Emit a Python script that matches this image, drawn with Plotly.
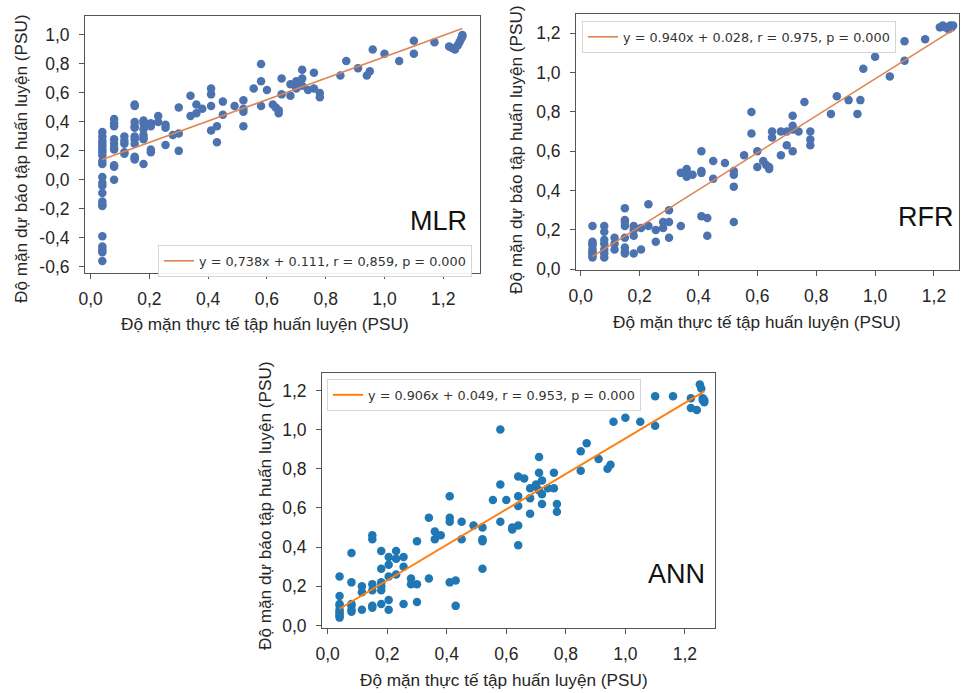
import numpy as np
import plotly.graph_objects as go

# ---------------- data ----------------
mlr_x = [0.04]*22 + [0.08]*10 + [0.115]*5 + [0.15]*11 + [0.18]*7 + [0.205]*4 + [0.23]*2 + [0.255]*3 + [0.28] + [0.30]*3 \
    + [0.34]*2 + [0.36]*2 + [0.38] + [0.41]*4 + [0.43]*2 + [0.45]*2 + [0.49] + [0.52]*4 + [0.555] + [0.58]*3 + [0.60] \
    + [0.62, 0.63, 0.64, 0.64] + [0.65]*2 + [0.68]*2 + [0.70]*3 + [0.72]*3 + [0.74] + [0.76]*2 + [0.78]*2 \
    + [0.85, 0.87, 0.91, 0.94, 0.95, 0.96, 1.00, 1.05, 1.10, 1.10, 1.17] + [1.22, 1.23, 1.24, 1.25, 1.255, 1.26, 1.265, 1.265]
mlr_y = [0.33, 0.30, 0.27, 0.25, 0.23, 0.21, 0.19, 0.17, 0.13, 0.11, 0.02, -0.02, -0.04, -0.09, -0.15, -0.17, -0.18,
         -0.39, -0.46, -0.48, -0.50, -0.56] \
    + [0.42, 0.39, 0.37, 0.28, 0.25, 0.22, 0.21, 0.10, 0.09, 0.00] \
    + [0.30, 0.27, 0.25, 0.19, 0.18] \
    + [0.52, 0.51, 0.40, 0.37, 0.36, 0.30, 0.28, 0.25, 0.16, 0.15, 0.14] \
    + [0.41, 0.39, 0.35, 0.31, 0.29, 0.28, 0.11] \
    + [0.39, 0.37, 0.21, 0.19] + [0.44, 0.40] + [0.38, 0.36, 0.24] + [0.31] + [0.50, 0.32, 0.20] \
    + [0.58, 0.44] + [0.52, 0.46] + [0.49] + [0.63, 0.59, 0.51, 0.34] + [0.37, 0.26] + [0.54, 0.45] + [0.51] \
    + [0.55, 0.49, 0.47, 0.37] + [0.63] + [0.80, 0.68, 0.51] + [0.62] \
    + [0.52, 0.50, 0.46, 0.48] + [0.70, 0.59] + [0.66, 0.58] + [0.68, 0.66, 0.63] + [0.76, 0.70, 0.65] + [0.62] \
    + [0.74, 0.63] + [0.60, 0.57] \
    + [0.72, 0.82, 0.77, 0.72, 0.75, 0.90, 0.87, 0.82, 0.96, 0.87, 0.95] + [0.92, 0.91, 0.90, 0.93, 0.95, 0.97, 1.00, 0.99]

rfr_x = [0.04]*9 + [0.08]*7 + [0.115]*3 + [0.15]*8 + [0.18]*4 + [0.205]*2 + [0.23]*2 + [0.255]*2 + [0.28]*2 + [0.30]*3 \
    + [0.34]*2 + [0.36]*3 + [0.38] + [0.41]*4 + [0.43]*2 + [0.45]*2 + [0.49] + [0.52]*4 + [0.555] + [0.58]*2 \
    + [0.60]*2 + [0.62, 0.63, 0.64, 0.64] + [0.65]*2 + [0.68]*2 + [0.70]*2 + [0.72]*4 + [0.74] + [0.76] + [0.78]*3 \
    + [0.85, 0.87, 0.91, 0.94, 0.95, 0.96, 1.00, 1.05, 1.10, 1.10, 1.17] + [1.22, 1.23, 1.24, 1.25, 1.255, 1.26, 1.265]
rfr_y = [0.22, 0.14, 0.13, 0.12, 0.10, 0.09, 0.08, 0.07, 0.06] \
    + [0.22, 0.19, 0.15, 0.13, 0.10, 0.08, 0.06] + [0.16, 0.13, 0.10] \
    + [0.31, 0.25, 0.24, 0.22, 0.16, 0.11, 0.09, 0.08] + [0.22, 0.20, 0.17, 0.08] + [0.21, 0.10] + [0.33, 0.22] \
    + [0.20, 0.14] + [0.24, 0.21] + [0.30, 0.24, 0.16] \
    + [0.49, 0.22] + [0.51, 0.47, 0.49] + [0.48] + [0.60, 0.50, 0.49, 0.27] + [0.26, 0.17] + [0.55, 0.46] + [0.54] \
    + [0.50, 0.48, 0.42, 0.24] + [0.58] + [0.80, 0.69] + [0.60, 0.52] + [0.55, 0.53, 0.52, 0.51] + [0.70, 0.67] \
    + [0.70, 0.58] + [0.63, 0.70] + [0.78, 0.73, 0.71, 0.60] + [0.70] + [0.85] + [0.70, 0.66, 0.63] \
    + [0.79, 0.88, 0.86, 0.79, 0.86, 1.02, 1.08, 0.98, 1.16, 1.06, 1.17] + [1.23, 1.24, 1.23, 1.22, 1.24, 1.23, 1.24]

ann_x = [0.04]*9 + [0.08]*6 + [0.115]*3 + [0.15]*6 + [0.18]*6 + [0.205]*5 + [0.23]*3 + [0.255]*3 + [0.28]*2 + [0.30]*3 \
    + [0.34]*2 + [0.36]*2 + [0.38] + [0.41]*4 + [0.43]*2 + [0.45]*2 + [0.49] + [0.52]*4 + [0.555] + [0.58]*3 + [0.60] \
    + [0.62]*2 + [0.64]*5 + [0.66] + [0.68]*3 + [0.70]*2 + [0.71]*3 + [0.72]*3 + [0.74] + [0.76]*2 + [0.77]*2 \
    + [0.85, 0.85, 0.87, 0.91, 0.94, 0.95, 0.96, 1.00, 1.05, 1.10, 1.10, 1.16] + [1.22, 1.22, 1.24, 1.25, 1.255, 1.26, 1.26, 1.265, 1.265]
ann_y = [0.25, 0.15, 0.11, 0.10, 0.08, 0.07, 0.06, 0.05, 0.04] \
    + [0.37, 0.22, 0.11, 0.10, 0.08, 0.07] + [0.20, 0.17, 0.08] + [0.46, 0.44, 0.21, 0.18, 0.10, 0.09] \
    + [0.38, 0.29, 0.22, 0.20, 0.18, 0.11] + [0.35, 0.31, 0.25, 0.13, 0.08] + [0.38, 0.34, 0.26] + [0.35, 0.30, 0.11] \
    + [0.24, 0.21] + [0.43, 0.21, 0.12] \
    + [0.55, 0.24] + [0.48, 0.44] + [0.46] + [0.66, 0.55, 0.53, 0.22] + [0.23, 0.10] + [0.53, 0.44] + [0.51] \
    + [0.50, 0.44, 0.43, 0.29] + [0.64] + [1.00, 0.72, 0.53] + [0.64] + [0.50, 0.49] + [0.76, 0.66, 0.61, 0.51, 0.41] \
    + [0.75] + [0.57, 0.65, 0.70] + [0.71, 0.72] + [0.86, 0.78, 0.69] + [0.74, 0.67, 0.62] + [0.70] + [0.78, 0.70] \
    + [0.62, 0.58] \
    + [0.89, 0.79, 0.93, 0.85, 0.80, 0.82, 1.04, 1.06, 1.04, 1.17, 1.02, 1.17] \
    + [1.16, 1.11, 1.10, 1.23, 1.21, 1.16, 1.15, 1.15, 1.14]

fits = {  # slope, intercept, legend text
    "MLR": (0.738, 0.111, "y = 0,738x + 0.111, r = 0,859, p = 0.000"),
    "RFR": (0.940, 0.028, "y = 0.940x + 0.028, r = 0.975, p = 0.000"),
    "ANN": (0.906, 0.049, "y = 0.906x + 0.049, r = 0.953, p = 0.000"),
}

x_ticks = [0.0, 0.2, 0.4, 0.6, 0.8, 1.0, 1.2]
x_ticktext = ["0,0", "0,2", "0,4", "0,6", "0,8", "1,0", "1,2"]
mlr_yticks = [-0.6, -0.4, -0.2, 0.0, 0.2, 0.4, 0.6, 0.8, 1.0]
mlr_yticktext = ["-0,6", "-0,4", "-0,2", "0,0", "0,2", "0,4", "0,6", "0,8", "1,0"]
yticks = [0.0, 0.2, 0.4, 0.6, 0.8, 1.0, 1.2]
yticktext = ["0,0", "0,2", "0,4", "0,6", "0,8", "1,0", "1,2"]

xtitle = "Độ mặn thực tế tập huấn luyện (PSU)"
ytitle = "Độ mặn dự báo tập huấn luyện (PSU)"

W, H = 962, 693
def px(x): return x / W
def py(y): return 1 - y / H

panels = [
    dict(name="MLR", x=mlr_x, y=mlr_y, ax="", xd=(85, 480), yd=(16, 273), xr=(-0.019, 1.325), yr=(-0.643, 1.131),
         yt=mlr_yticks, ytt=mlr_yticktext, dot="#4C72B0", line="#DD8452", lw=1.6, leg=(158, 245), lab=(438, 221),
         yti=(21, 159), xti=(265, 324)),
    dict(name="RFR", x=rfr_x, y=rfr_y, ax="2", xd=(576, 959), yd=(14, 270), xr=(-0.016, 1.285), yr=(-0.004, 1.298),
         yt=yticks, ytt=yticktext, dot="#4C72B0", line="#DD8452", lw=1.6, leg=(582, 21), lab=(926, 217),
         yti=(516, 150), xti=(757, 322)),
    dict(name="ANN", x=ann_x, y=ann_y, ax="3", xd=(322, 715), yd=(373, 628), xr=(-0.019, 1.301), yr=(-0.013, 1.289),
         yt=yticks, ytt=yticktext, dot="#1F77B4", line="#FF7F0E", lw=2.0, leg=(327, 379), lab=(676, 574),
         yti=(265, 506), xti=(504, 680)),
]

fig = go.Figure()
annotations = []
layout = {}
tickfont = dict(family="Liberation Sans, Arial, sans-serif", size=17.5, color="#262626")
for i, p in enumerate(panels):
    xa, ya = "x" + p["ax"], "y" + p["ax"]
    legname = "legend" + ("" if i == 0 else str(i + 1))
    a, b, txt = fits[p["name"]]
    fig.add_trace(go.Scatter(x=p["x"], y=p["y"], mode="markers", xaxis=xa, yaxis=ya, showlegend=False,
                             marker=dict(color=p["dot"], size=8.5, line=dict(width=0))))
    xs = np.array([min(p["x"]), max(p["x"])])
    fig.add_trace(go.Scatter(x=xs, y=a * xs + b, mode="lines", xaxis=xa, yaxis=ya, name=txt, legend=legname,
                             showlegend=True, line=dict(color=p["line"], width=p["lw"])))
    axcommon = dict(showgrid=False, zeroline=False, showline=True, mirror=True, linecolor="#555555", linewidth=1,
                    ticks="outside", ticklen=5, tickcolor="#555555", tickwidth=1, tickfont=tickfont)
    layout["xaxis" + p["ax"]] = dict(domain=[px(p["xd"][0]), px(p["xd"][1])], range=list(p["xr"]), anchor=ya,
                                     tickvals=x_ticks, ticktext=x_ticktext, ticklabelstandoff=5, **axcommon)
    layout["yaxis" + p["ax"]] = dict(domain=[py(p["yd"][1]), py(p["yd"][0])], range=list(p["yr"]), anchor=xa,
                                     tickvals=p["yt"], ticktext=p["ytt"], ticklabelstandoff=6, **axcommon)
    layout[legname] = dict(x=px(p["leg"][0]), y=py(p["leg"][1]), xanchor="left", yanchor="top", xref="paper",
                           yref="paper", bgcolor="rgba(255,255,255,0.9)", bordercolor="#d6d6d6", borderwidth=1,
                           font=dict(family="DejaVu Sans, sans-serif", size=12.8, color="#333333"),
                           itemwidth=30, tracegroupgap=0)
    annotations.append(dict(text=p["name"], x=px(p["lab"][0]), y=py(p["lab"][1]), xref="paper", yref="paper",
                            showarrow=False, xanchor="center", yanchor="middle",
                            font=dict(family="Liberation Sans, Arial, sans-serif", size=27, color="#111111")))
    annotations.append(dict(text=ytitle, x=px(p["yti"][0]), y=py(p["yti"][1]), xref="paper", yref="paper",
                            showarrow=False, textangle=-90, xanchor="center", yanchor="middle",
                            font=dict(family="Liberation Sans, Arial, sans-serif", size=17.2, color="#262626")))
    annotations.append(dict(text=xtitle, x=px(p["xti"][0]), y=py(p["xti"][1]), xref="paper", yref="paper",
                            showarrow=False, xanchor="center", yanchor="middle",
                            font=dict(family="Liberation Sans, Arial, sans-serif", size=17.2, color="#262626")))

fig.update_layout(width=W, height=H, margin=dict(l=0, r=0, t=0, b=0, autoexpand=False), paper_bgcolor="white",
                  plot_bgcolor="white", annotations=annotations, **layout)
fig.write_html("out.html", config={"displayModeBar": False},
               post_script="document.body.style.margin='0';document.body.style.padding='0';"
                           "document.body.style.overflow='hidden';")
